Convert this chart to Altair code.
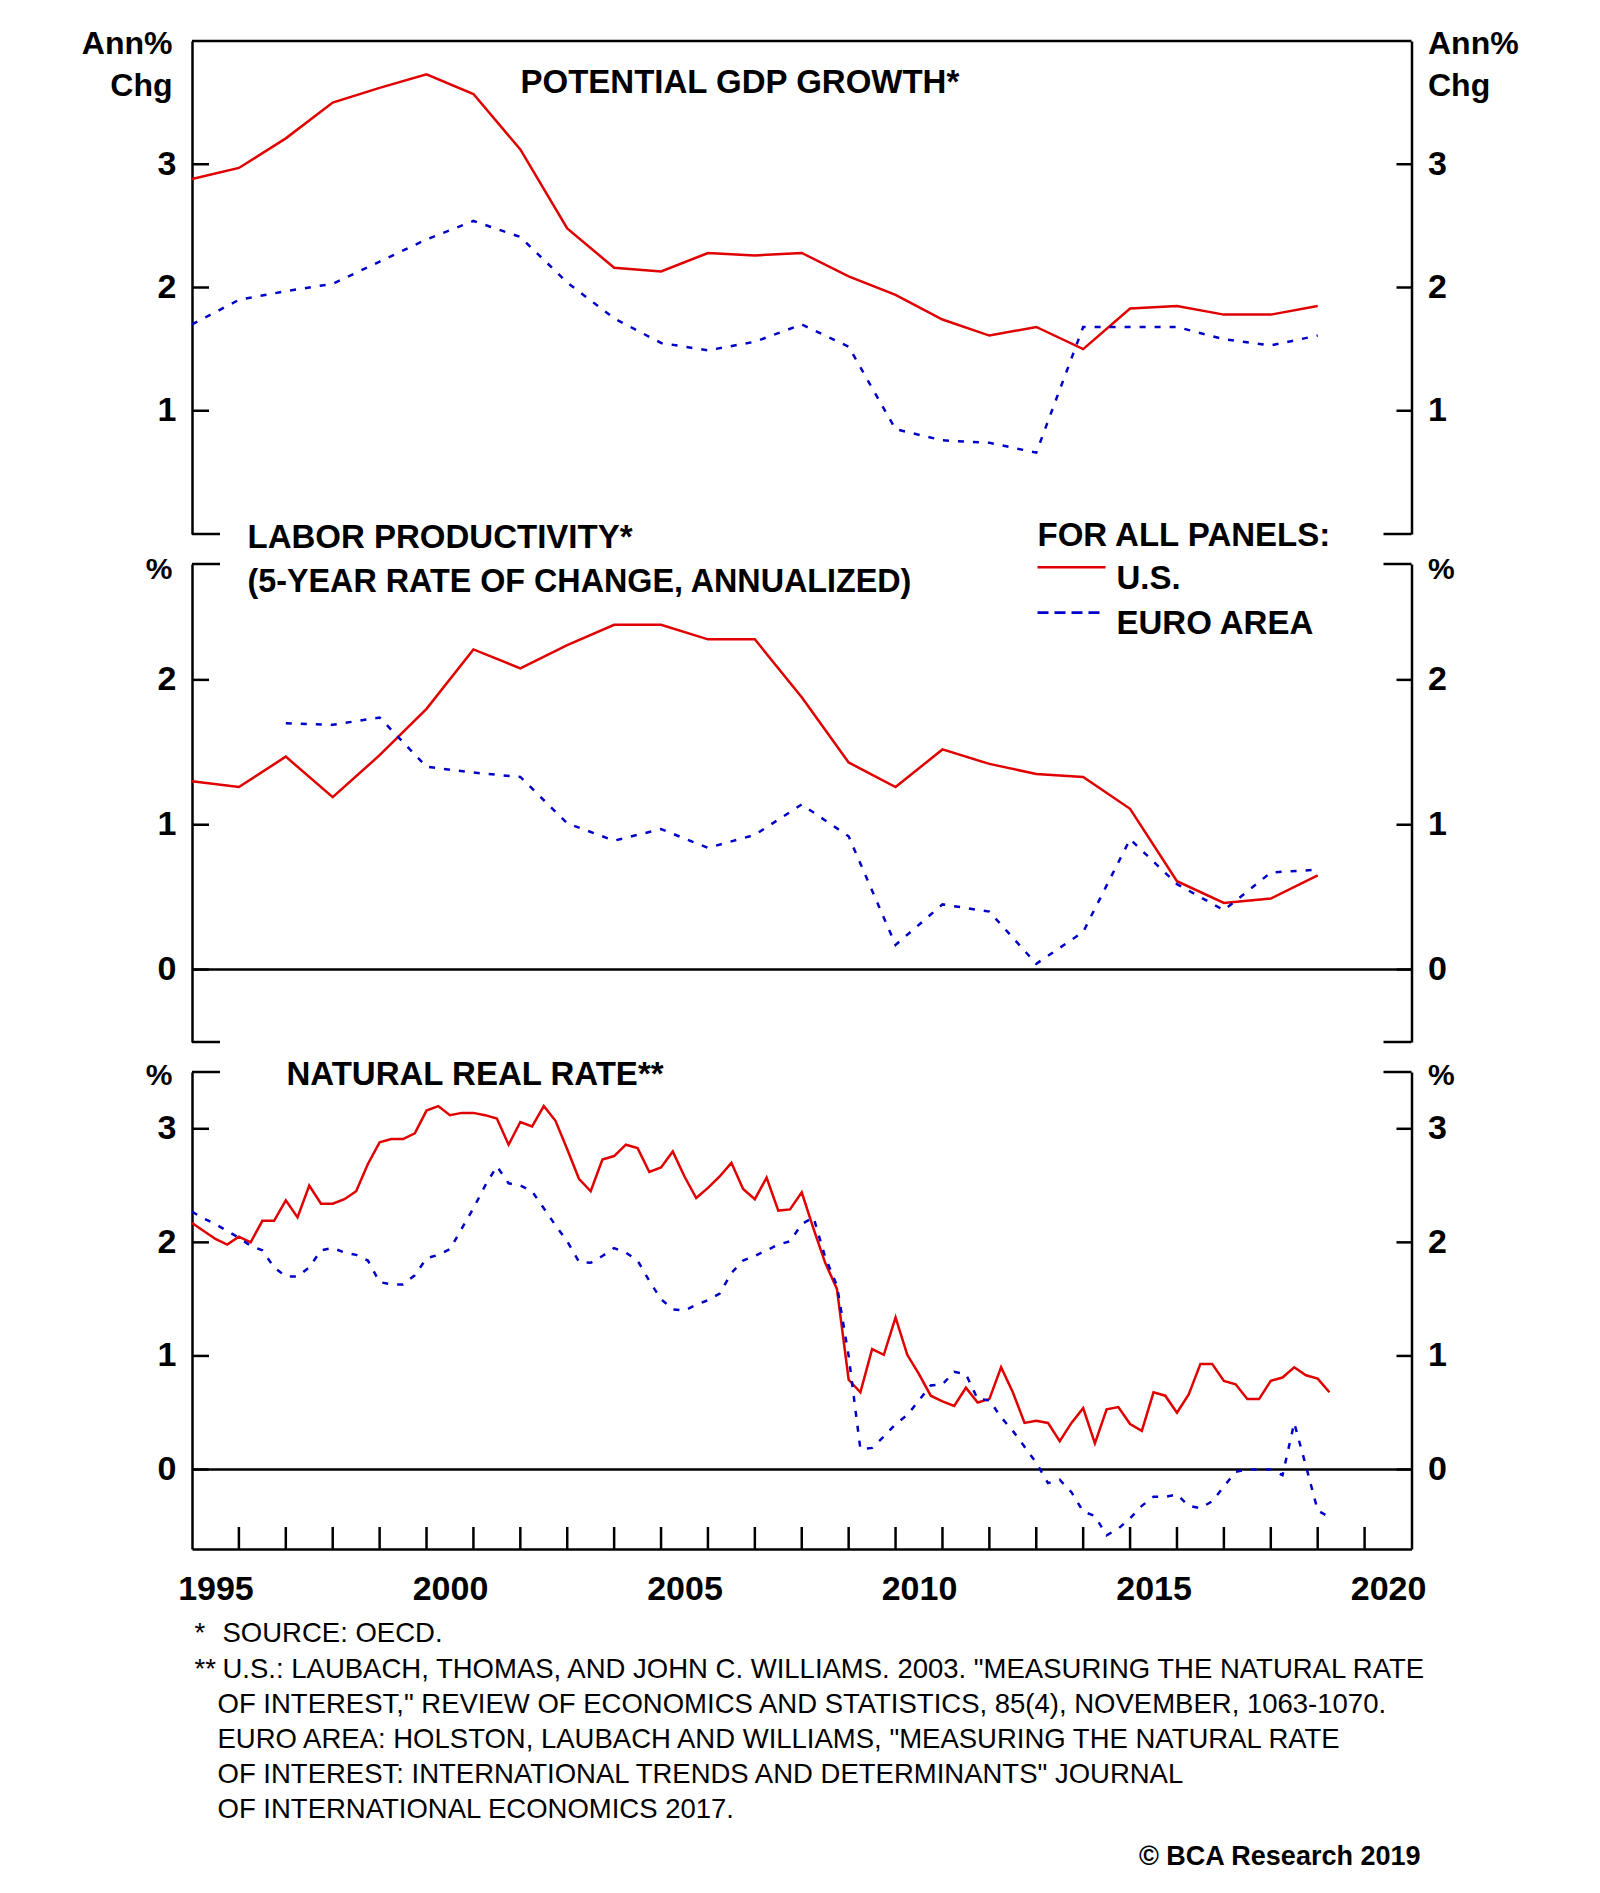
import altair as alt
import pandas as pd

RED = "#e00000"
BLUE = "#0000c8"
FONT = "Liberation Sans"
W = 1219.5

# ---------------- data ----------------
gdp_years = list(range(1995, 2020))
gdp_us = [2.88, 2.97, 3.21, 3.50, 3.62, 3.73, 3.57, 3.12, 2.48, 2.16, 2.13, 2.28, 2.26,
          2.28, 2.09, 1.94, 1.74, 1.61, 1.68, 1.50, 1.83, 1.85, 1.78, 1.78, 1.85]
gdp_ea = [1.70, 1.90, 1.97, 2.03, 2.21, 2.39, 2.54, 2.41, 2.04, 1.75, 1.55, 1.49, 1.56,
          1.70, 1.52, 0.85, 0.76, 0.74, 0.66, 1.68, 1.68, 1.68, 1.58, 1.53, 1.61]

prod_us_years = list(range(1995, 2020))
prod_us = [1.30, 1.26, 1.47, 1.19, 1.48, 1.80, 2.21, 2.08, 2.24, 2.38, 2.38, 2.28, 2.28,
           1.88, 1.43, 1.26, 1.52, 1.42, 1.35, 1.33, 1.11, 0.61, 0.46, 0.49, 0.65]
prod_ea_years = list(range(1997, 2020))
prod_ea = [1.70, 1.69, 1.74, 1.40, 1.36, 1.33, 1.01, 0.89, 0.97, 0.84, 0.93, 1.14,
           0.92, 0.17, 0.45, 0.40, 0.04, 0.26, 0.90, 0.59, 0.41, 0.67, 0.69]

# quarterly, index 0 = 1995Q1
rstar_quarters = list(range(0, 98))
rstar_us = [2.17, 2.10, 2.03, 1.98, 2.05, 2.00, 2.19, 2.19, 2.37, 2.22,
            2.50, 2.34, 2.34, 2.38, 2.45, 2.69, 2.88, 2.91, 2.91, 2.96,
            3.16, 3.20, 3.12, 3.14, 3.14, 3.12, 3.09, 2.86, 3.06, 3.02,
            3.20, 3.07, 2.82, 2.56, 2.45, 2.73, 2.76, 2.86, 2.83, 2.62,
            2.66, 2.80, 2.58, 2.39, 2.48, 2.58, 2.70, 2.47, 2.38, 2.57,
            2.28, 2.29, 2.44, 2.12, 1.82, 1.59, 0.79, 0.68, 1.06, 1.01,
            1.34, 1.01, 0.84, 0.65, 0.60, 0.56, 0.72, 0.59, 0.62, 0.90,
            0.68, 0.41, 0.43, 0.41, 0.25, 0.41, 0.54, 0.23, 0.53, 0.55,
            0.40, 0.34, 0.68, 0.65, 0.50, 0.66, 0.93, 0.93, 0.78, 0.75,
            0.62, 0.62, 0.78, 0.81, 0.90, 0.83, 0.80, 0.68]
rstar_ea = [2.27, 2.21, 2.16, 2.10, 2.04, 1.97, 1.93, 1.78, 1.70, 1.70,
            1.78, 1.93, 1.95, 1.91, 1.89, 1.84, 1.65, 1.63, 1.63, 1.71,
            1.86, 1.89, 1.94, 2.12, 2.30, 2.50, 2.67, 2.52, 2.50, 2.45,
            2.30, 2.15, 2.01, 1.83, 1.82, 1.88, 1.95, 1.91, 1.84, 1.66,
            1.50, 1.41, 1.40, 1.45, 1.49, 1.55, 1.73, 1.84, 1.88, 1.93,
            1.98, 2.01, 2.16, 2.22, 1.87, 1.62, 1.00, 0.18, 0.19, 0.29,
            0.40, 0.48, 0.61, 0.74, 0.75, 0.86, 0.84, 0.62, 0.61, 0.46,
            0.34, 0.20, 0.06, -0.12, -0.09, -0.20, -0.37, -0.41, -0.58, -0.52,
            -0.43, -0.32, -0.24, -0.24, -0.22, -0.32, -0.34, -0.28, -0.15, -0.02,
            0.00, 0.00, 0.00, -0.05, 0.41, 0.03, -0.36, -0.42]

panel1_ticks = [1, 2, 3]
panel2_ticks = [0, 1, 2]
panel3_ticks = [0, 1, 2, 3]
year_ticks = list(range(1996, 2021))
year_labels = [1995, 2000, 2005, 2010, 2015, 2020]

footnote_marks = ["*", "**", "", "", "", ""]
footnote_text = [
    "SOURCE: OECD.",
    "U.S.: LAUBACH, THOMAS, AND JOHN C. WILLIAMS. 2003. \"MEASURING THE NATURAL RATE",
    "OF INTEREST,\" REVIEW OF ECONOMICS AND STATISTICS, 85(4), NOVEMBER, 1063-1070.",
    "EURO AREA: HOLSTON, LAUBACH AND WILLIAMS, \"MEASURING THE NATURAL RATE",
    "OF INTEREST: INTERNATIONAL TRENDS AND DETERMINANTS\" JOURNAL",
    "OF INTERNATIONAL ECONOMICS 2017.",
]

DASH = [6, 9]

# ---------------- helpers ----------------
XS = alt.Scale(domain=[1995, 2021], nice=False, zero=False)


def ax(orient, ticks):
    return alt.Axis(orient=orient, values=ticks, ticks=False, tickSize=0, grid=False,
                    domain=True, domainColor="black", domainWidth=2.5, labelFlush=False,
                    labelFont=FONT, labelFontSize=34, labelFontWeight="bold",
                    labelColor="black", labelPadding=16, title=None)


def text_layer(t, x, y, size=33, weight="bold", align="left", baseline="alphabetic"):
    return alt.Chart(pd.DataFrame({"t": [t]})).mark_text(
        font=FONT, fontSize=size, fontWeight=weight, align=align,
        baseline=baseline, color="black").encode(
        x=alt.value(x), y=alt.value(y), text="t:N")


def panel(series, domain, ticks, H, full_rules, stub_vals, texts, xaxis=None, extra=()):
    ys = alt.Scale(domain=domain, nice=False, zero=False)
    layers = []
    layers.append(alt.Chart(pd.DataFrame({"v": ticks})).mark_rule(
        color="black", strokeWidth=2.5).encode(
        x=alt.value(0), x2=alt.value(17),
        y=alt.Y("v:Q", scale=ys, axis=ax("left", ticks))))
    layers.append(alt.Chart(pd.DataFrame({"v": ticks})).mark_rule(
        color="black", strokeWidth=2.5).encode(
        x=alt.value(W - 15), x2=alt.value(W),
        y=alt.Y("v:Q", scale=ys, axis=ax("right", ticks))))
    if stub_vals:
        sdf = pd.DataFrame({"v": stub_vals})
        layers.append(alt.Chart(sdf).mark_rule(color="black", strokeWidth=2.5).encode(
            x=alt.value(0), x2=alt.value(28), y=alt.Y("v:Q", scale=ys, axis=None)))
        layers.append(alt.Chart(sdf).mark_rule(color="black", strokeWidth=2.5).encode(
            x=alt.value(W - 28), x2=alt.value(W), y=alt.Y("v:Q", scale=ys, axis=None)))
    if full_rules:
        layers.append(alt.Chart(pd.DataFrame({"v": full_rules})).mark_rule(
            color="black", strokeWidth=2.5).encode(
            x=alt.value(0), x2=alt.value(W), y=alt.Y("v:Q", scale=ys, axis=None)))
    for xs_, vs_, color, dash in series:
        df = pd.DataFrame({"x": xs_, "v": vs_})
        kw = dict(color=color, strokeWidth=2.5)
        if dash:
            kw["strokeDash"] = dash
        layers.append(alt.Chart(df).mark_line(**kw).encode(
            x=alt.X("x:Q", scale=XS, axis=xaxis),
            y=alt.Y("v:Q", scale=ys, axis=None)))
    layers.extend(extra)
    layers.extend(texts)
    return alt.layer(*layers).resolve_axis(y="independent").properties(width=W, height=H)


# ---------------- panel 1 ----------------
H1, H2, H3 = 493, 478, 477
p1 = panel(
    [(gdp_years, gdp_us, RED, None), (gdp_years, gdp_ea, BLUE, DASH)],
    [0, 4], panel1_ticks, H1, [4], [0],
    [
        text_layer("Ann%", -19.5, 12.5, size=32, align="right"),
        text_layer("Chg", -19.5, 55.0, size=32, align="right"),
        text_layer("Ann%", 1236, 12.5, size=32),
        text_layer("Chg", 1236, 55.0, size=32),
        text_layer("POTENTIAL GDP GROWTH*", 328.5, 52.4),
    ],
)

# ---------------- panel 2 ----------------
legend_lines = [
    alt.Chart(pd.DataFrame({"a": [0]})).mark_rule(color=RED, strokeWidth=2.6).encode(
        x=alt.value(845.5), x2=alt.value(913.5), y=alt.value(3.2)),
    alt.Chart(pd.DataFrame({"a": [0]})).mark_rule(
        color=BLUE, strokeWidth=2.6, strokeDash=[11, 6]).encode(
        x=alt.value(845.5), x2=alt.value(910), y=alt.value(48.6)),
]
p2 = panel(
    [(prod_us_years, prod_us, RED, None), (prod_ea_years, prod_ea, BLUE, DASH)],
    [-0.5, 2.8], panel2_ticks, H2, [0], [-0.5, 2.8],
    [
        text_layer("%", -19.5, 15.4, size=30, align="right"),
        text_layer("%", 1236, 15.4, size=30),
        text_layer("LABOR PRODUCTIVITY*", 55.5, -15.6),
        text_layer("(5-YEAR RATE OF CHANGE, ANNUALIZED)", 55.5, 28.4, size=32.3),
        text_layer("FOR ALL PANELS:", 845.5, -17.6),
        text_layer("U.S.", 924.5, 25.4),
        text_layer("EURO AREA", 924.5, 70.4),
    ],
    extra=legend_lines,
)

# ---------------- panel 3 ----------------
xaxis3 = alt.Axis(orient="bottom", values=[y + 0.5 for y in year_labels],
                  labelExpr="floor(datum.value)", ticks=False, tickSize=0, grid=False,
                  domain=True, domainColor="black", domainWidth=2.5, labelFlush=False,
                  labelOverlap=False, labelFont=FONT, labelFontSize=34,
                  labelFontWeight="bold", labelColor="black", labelPadding=23, title=None)
year_tick_layer = alt.Chart(pd.DataFrame({"yr": year_ticks})).mark_rule(
    color="black", strokeWidth=2.5).encode(
    x=alt.X("yr:Q", scale=XS, axis=xaxis3), y=alt.value(H3), y2=alt.value(H3 - 22))

q_x = [1995 + q / 4 for q in rstar_quarters]
foot_layers = []
for i, (mk, line) in enumerate(zip(footnote_marks, footnote_text)):
    yb = 570.4 + i * 35.2
    if mk:
        foot_layers.append(text_layer(mk, 2.5, yb, size=27.5, weight="normal"))
        foot_layers.append(text_layer(line, 30.5, yb, size=27.5, weight="normal"))
    else:
        foot_layers.append(text_layer(line, 25.5, yb, size=27.5, weight="normal"))
foot_layers.append(text_layer("\u00a9 BCA Research 2019", 1228.5, 793.4, size=27,
                              weight="bold", align="right"))
p3 = panel(
    [(q_x, rstar_us, RED, None), (q_x, rstar_ea, BLUE, DASH)],
    [-0.7, 3.5], panel3_ticks, H3, [0], [3.5],
    [
        text_layer("%", -19.5, 13.4, size=30, align="right"),
        text_layer("%", 1236, 13.4, size=30),
        text_layer("NATURAL REAL RATE**", 94.5, 13.4),
    ] + foot_layers,
    xaxis=xaxis3,
    extra=[year_tick_layer],
)

chart = alt.vconcat(p1, p2, p3, spacing=30, bounds="flush").properties(
    padding={"left": 73, "top": 19, "right": 10, "bottom": 10},
    background="white",
).configure(font=FONT).configure_view(strokeWidth=0, stroke="transparent")

chart.save("out.html", embed_options={"renderer": "svg", "actions": False})
